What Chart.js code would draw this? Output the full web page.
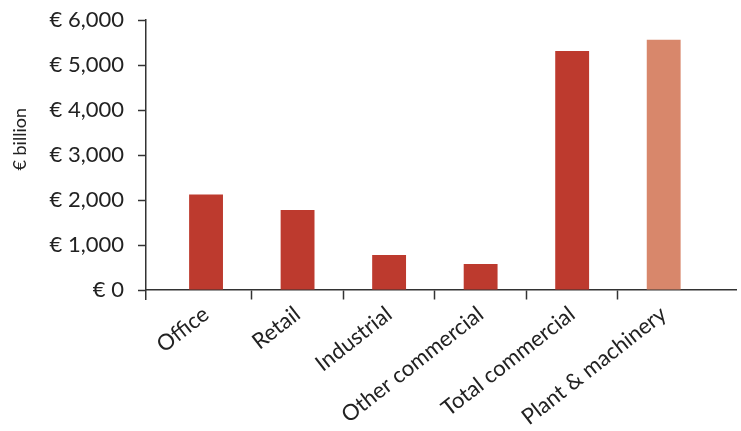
<!DOCTYPE html>
<html>
<head>
<meta charset="utf-8">
<script src="https://cdn.jsdelivr.net/npm/chart.js@4"></script>
<style>
  html, body { margin: 0; padding: 0; background: #fff; }
  #wrap { width: 741px; height: 431px; }
</style>
</head>
<body>
<div id="wrap"><canvas id="chart"></canvas></div>
<script>
// ---------- Data ----------
const categories = ["Office", "Retail", "Industrial", "Other commercial", "Total commercial", "Plant & machinery"];
const values = [2120, 1780, 780, 580, 5310, 5560];
const barColors = ["#bd3a2e", "#bd3a2e", "#bd3a2e", "#bd3a2e", "#bd3a2e", "#d8876b"];
const yTicks = [0, 1000, 2000, 3000, 4000, 5000, 6000];
const yTitle = "€ billion";

const FONT = "Lato, 'Noto Sans', sans-serif";
const AXIS = "#333";

const ctx = document.getElementById("chart");

new Chart(ctx, {
  type: "bar",
  data: {
    datasets: [{
      data: values.map((v, i) => ({ x: i, y: v })),
      backgroundColor: barColors,
      borderWidth: 0,
      barPercentage: 1,
      categoryPercentage: 0.37
    }]
  },
  options: {
    responsive: true,
    maintainAspectRatio: false,
    animation: false,
    layout: { padding: { top: 20, right: 5, bottom: 132, left: 0 } },
    plugins: {
      legend: { display: false },
      tooltip: { enabled: false }
    },
    scales: {
      x: {
        type: "linear",
        position: { y: 0 },
        offset: false,
        min: -0.656,
        max: 5.79,
        afterBuildTicks: (scale) => { scale.ticks = categories.map((c, i) => ({ value: i })); },
        grid: {
          offset: true,
          drawOnChartArea: false,
          tickLength: 9,
          tickWidth: 1.5,
          // only the marks between bars, like the original
          tickColor: (c) => (c.type === "tick" && c.index > 0) ? AXIS : "rgba(0,0,0,0)"
        },
        border: { color: AXIS, width: 1.5 },
        ticks: {
          minRotation: 38,
          maxRotation: 38,
          autoSkip: false,
          padding: 2,
          color: "#222",
          font: { family: FONT, size: 22 },
          callback: (v) => categories[v]
        }
      },
      y: {
        min: -200,
        max: 6000,
        afterBuildTicks: (scale) => { scale.ticks = yTicks.map(v => ({ value: v })); },
        afterFit: (scale) => {
          scale.width = 146;
          scale.paddingTop = 0;
          scale.paddingBottom = 0;
        },
        grid: {
          drawOnChartArea: false,
          tickLength: 8,
          tickWidth: 1.5,
          tickColor: AXIS
        },
        border: { color: AXIS, width: 1.5 },
        ticks: {
          padding: 14,
          color: "#222",
          font: { family: FONT, size: 22 },
          callback: (v) => "€ " + v.toLocaleString("en-US")
        },
        title: {
          display: true,
          // leading em spaces lift the title a little above the middle, as in the original
          text: "\u2003\u2003\u2003" + yTitle,
          color: "#222",
          font: { family: FONT, size: 18 },
          padding: { top: 9, bottom: 0 }
        }
      }
    }
  }
});
</script>
</body>
</html>
